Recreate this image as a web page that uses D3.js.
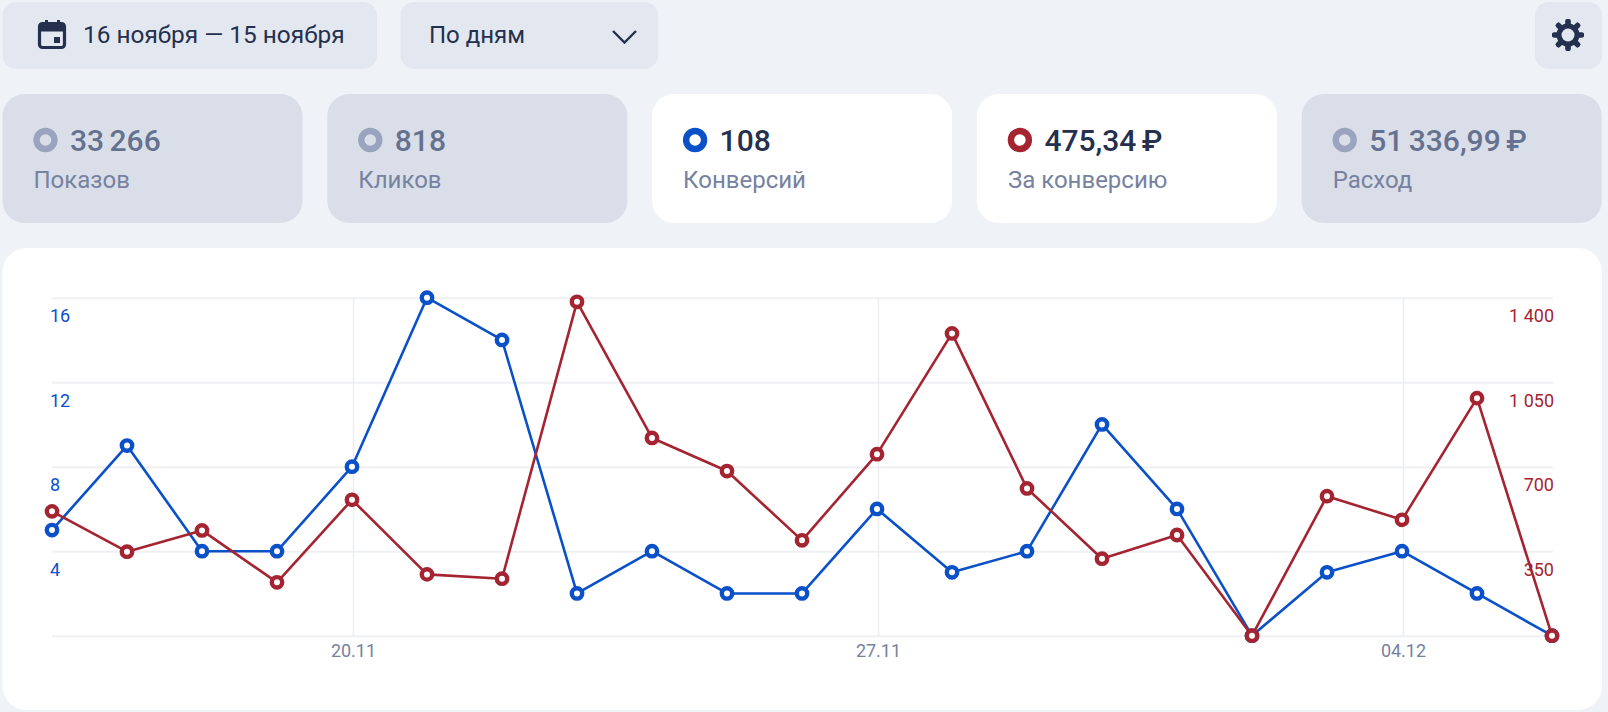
<!DOCTYPE html>
<html lang="ru">
<head>
<meta charset="utf-8">
<title>Статистика</title>
<script src="https://cdnjs.cloudflare.com/ajax/libs/d3/7.8.5/d3.min.js"></script>
<style>
    html, body { margin: 0; padding: 0; background: #eff2f7; }
    svg { display: block; }
    text { font-family: Roboto, "Noto Sans", sans-serif; }
</style>
</head>
<body>
<div id="host"></div>
<script>
// Chart data
const dates = ["16.11", "17.11", "18.11", "19.11", "20.11", "21.11", "22.11", "23.11", "24.11", "25.11", "26.11",
    "27.11", "28.11", "29.11", "30.11", "01.12", "02.12", "03.12", "04.12", "05.12", "06.12"];
const conversions = [5, 9, 4, 4, 8, 16, 14, 2, 4, 2, 2, 6, 3, 4, 10, 6, 0, 3, 4, 2, 0];
const costPerConversion = [515, 348, 436, 221, 563, 254, 236, 1383, 819, 682, 395, 752, 1252, 610, 319, 417, 0, 578, 480, 984, 0];
const dateTicks = ["20.11", "27.11", "04.12"];
const conversionTicks = [4, 8, 12, 16];
const costTicks = [350, 700, 1050, 1400];

// Summary cards
const cardValues = ["33 266", "818", "108", "475,34 ₽", "51 336,99 ₽"];
const cardLabels = ["Показов", "Кликов", "Конверсий", "За конверсию", "Расход"];
const cardColors = [null, null, "#0a50c8", "#a52431", null];

const periodLabel = "16 ноября — 15 ноября";
const groupingLabel = "По дням";

// Layout constants
const WIDTH = 1608;
const HEIGHT = 712;
const CARD_WIDTH = 300;
const CARD_STEP = 324.8;
const plot = {left: 52, right: 1553, top: 297.7, bottom: 635.7};

const DARK = "#24304d";
const MUTED = "#76829f";

const ruLocale = d3.formatLocale({decimal: ",", thousands: "\u00a0", grouping: [3], currency: ["", ""]});

const svg = d3.select("#host")
    .append("svg")
    .attr("width", WIDTH)
    .attr("height", HEIGHT);

function roundedBox(x, y, w, h, r, fill) {
    svg.append("rect")
        .attr("x", x).attr("y", y)
        .attr("width", w).attr("height", h)
        .attr("rx", r)
        .attr("fill", fill);
}

function drawToolbar() {
    roundedBox(2.5, 2, 374.5, 67, 14, "#e3e7f0");
    roundedBox(400.5, 2, 257.5, 67, 14, "#e3e7f0");
    roundedBox(1535, 2, 67, 67, 14, "#e3e7f0");

    // Calendar icon
    const cal = svg.append("g").attr("transform", "translate(38,20)");
    cal.append("rect").attr("x", 1.5).attr("y", 3.5).attr("width", 25).attr("height", 24)
        .attr("rx", 3).attr("fill", "none").attr("stroke", DARK).attr("stroke-width", 3.2);
    cal.append("rect").attr("x", 1.5).attr("y", 3.5).attr("width", 25).attr("height", 8).attr("fill", DARK);
    cal.selectAll(".pin").data([7, 19]).join("rect").attr("class", "pin")
        .attr("x", d => d).attr("y", 0).attr("width", 3).attr("height", 5).attr("fill", DARK);
    cal.append("rect").attr("x", 16).attr("y", 17).attr("width", 6).attr("height", 6).attr("fill", DARK);

    svg.append("text").attr("x", 83).attr("y", 43)
        .attr("font-size", 24.4).attr("fill", DARK)
        .text(periodLabel);
    svg.append("text").attr("x", 429).attr("y", 43)
        .attr("font-size", 24).attr("fill", DARK)
        .text(groupingLabel);

    // Chevron
    svg.append("path")
        .attr("d", d3.line()([[613, 31], [624.5, 42.5], [636, 31]]))
        .attr("fill", "none").attr("stroke", DARK).attr("stroke-width", 2.4);

    // Gear icon
    const gear = svg.append("g").attr("transform", "translate(1568,35)");
    gear.selectAll("rect").data(d3.range(8)).join("rect")
        .attr("x", -2.6).attr("y", -16).attr("width", 5.2).attr("height", 32).attr("rx", 2)
        .attr("fill", DARK)
        .attr("transform", d => `rotate(${d * 45})`);
    gear.append("circle").attr("r", 11.5).attr("fill", DARK);
    gear.append("circle").attr("r", 6.5).attr("fill", "#e3e7f0");
}

function drawCards() {
    cardValues.forEach((value, i) => {
        const x = 2.5 + i * CARD_STEP;
        const active = cardColors[i] !== null;
        roundedBox(x, 94, CARD_WIDTH, 129, 22, active ? "#ffffff" : "#d9deE9");

        svg.append("circle")
            .attr("cx", x + 43).attr("cy", 140).attr("r", 9)
            .attr("fill", "none")
            .attr("stroke", active ? cardColors[i] : "#9aa4bf")
            .attr("stroke-width", 6.4);
        svg.append("text")
            .attr("x", x + 67.5).attr("y", 150.5)
            .attr("font-size", 30).attr("font-weight", 500)
            .attr("word-spacing", -2)
            .attr("fill", active ? DARK : "#65728f")
            .text(value);
        svg.append("text")
            .attr("x", x + 31).attr("y", 188)
            .attr("font-size", 24)
            .attr("fill", MUTED)
            .text(cardLabels[i]);
    });
}

function drawChart() {
    roundedBox(2.5, 248, 1599.5, 462, 24, "#ffffff");

    const x = d3.scalePoint().domain(dates).range([plot.left, plot.right - 1]);
    const yLeft = d3.scaleLinear().domain([0, 16]).range([plot.bottom, plot.top]);
    const yRight = d3.scaleLinear().domain([0, 1400]).range([plot.bottom, plot.top]);

    // Horizontal grid
    svg.append("g")
        .attr("transform", `translate(${plot.left},0)`)
        .call(d3.axisRight(yLeft).tickValues([0, ...conversionTicks]).tickSize(plot.right - plot.left).tickFormat(""))
        .call(g => g.select(".domain").remove())
        .call(g => g.selectAll("line").attr("stroke", "#eef0f3").attr("stroke-width", 2));

    // Vertical grid and date labels
    svg.append("g")
        .attr("transform", `translate(1,${plot.bottom})`)
        .call(d3.axisBottom(x).tickValues(dateTicks).tickSize(0).tickPadding(9))
        .call(g => g.select(".domain").remove())
        .call(g => g.selectAll("line").attr("y2", plot.top - plot.bottom)
            .attr("stroke", "#ebedf1").attr("stroke-width", 1.5))
        .call(g => g.selectAll("text").attr("font-size", 18).attr("fill", MUTED)
            .attr("font-family", null).attr("dy", "0.71em"));

    // Left axis, labels sit below their gridlines
    svg.append("g")
        .attr("transform", `translate(${plot.left},0)`)
        .call(d3.axisRight(yLeft).tickValues(conversionTicks).tickSize(0).tickPadding(-2))
        .call(g => g.select(".domain").remove())
        .call(g => g.selectAll("text").attr("font-size", 18).attr("fill", cardColors[2])
            .attr("font-family", null).attr("dy", 24));

    // Right axis
    svg.append("g")
        .attr("transform", `translate(${plot.right + 1},0)`)
        .call(d3.axisLeft(yRight).tickValues(costTicks).tickSize(0).tickPadding(0)
            .tickFormat(ruLocale.format(",d")))
        .call(g => g.select(".domain").remove())
        .call(g => g.selectAll("text").attr("font-size", 18).attr("fill", cardColors[3])
            .attr("font-family", null).attr("dy", 24));

    drawSeries(x, yLeft, conversions, cardColors[2]);
    drawSeries(x, yRight, costPerConversion, cardColors[3]);
}

function drawSeries(x, y, values, color) {
    const line = d3.line()
        .x((d, i) => x(dates[i]))
        .y(d => y(d));

    const group = svg.append("g");
    group.append("path")
        .attr("d", line(values))
        .attr("fill", "none")
        .attr("stroke", color)
        .attr("stroke-width", 2.6)
        .attr("stroke-linejoin", "round");
    group.selectAll("circle")
        .data(values)
        .join("circle")
        .attr("cx", (d, i) => x(dates[i]))
        .attr("cy", d => y(d))
        .attr("r", 5.2)
        .attr("fill", "#ffffff")
        .attr("stroke", color)
        .attr("stroke-width", 4.4);
}

drawToolbar();
drawCards();
drawChart();
</script>
</body>
</html>
